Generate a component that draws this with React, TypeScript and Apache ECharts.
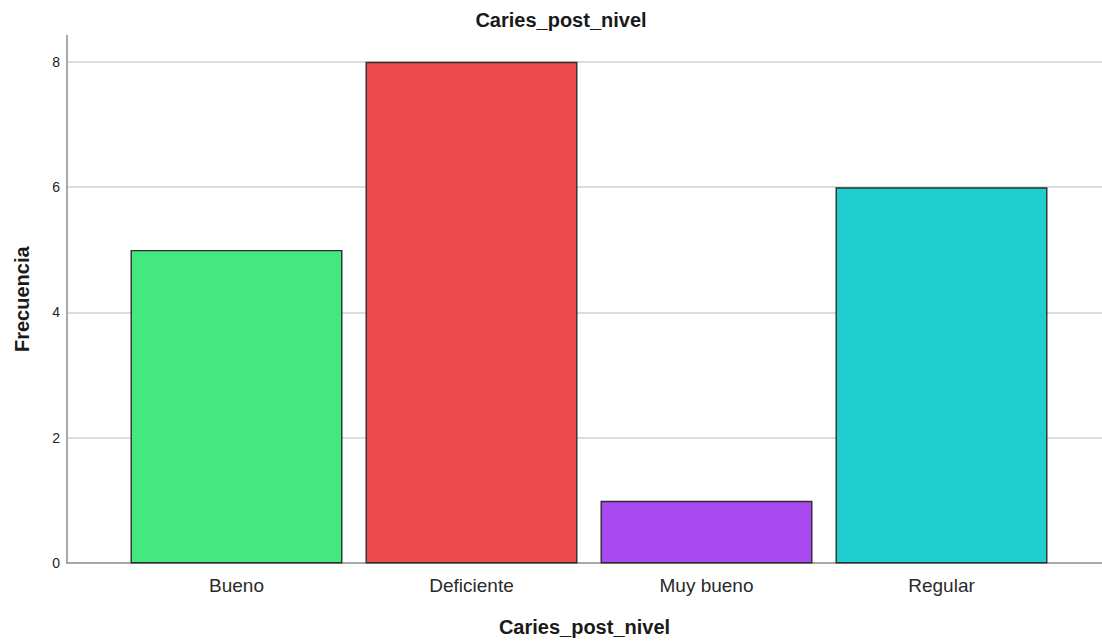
import React, { useEffect, useRef } from "react";
import * as echarts from "echarts";

const categories = ["Bueno", "Deficiente", "Muy bueno", "Regular"];
const frequencies = [5, 8, 1, 6];
const barColors = ["#43E87E", "#EC4B4D", "#A84AF0", "#1FCECE"];
const chartTitle = "Caries_post_nivel";
const xAxisTitle = "Caries_post_nivel";
const yAxisTitle = "Frecuencia";
const yMax = 8.42;
const yInterval = 2;

const FONT = "'Liberation Sans', Arial, sans-serif";

export default function App() {
  const ref = useRef<HTMLDivElement>(null);
  useEffect(() => {
    if (!ref.current) return;
    const chart = echarts.init(ref.current, undefined, { renderer: "svg" });
    const gridTop = 35.5;
    const gridBottom = 78.5;
    chart.setOption({
      animation: false,
      backgroundColor: "#ffffff",
      textStyle: { fontFamily: FONT },
      title: {
        text: chartTitle,
        left: 556,
        textAlign: "center",
        top: 5,
        textStyle: { fontFamily: FONT, fontSize: 20, fontWeight: "bold", color: "#1a1a1a" },
      },
      grid: [
        { left: 67, right: 0, top: gridTop, bottom: gridBottom },
        { left: 119, right: 43, top: gridTop, bottom: gridBottom },
      ],
      xAxis: [
        {
          type: "value",
          gridIndex: 0,
          min: 0,
          max: 1,
          axisLine: { show: true, onZero: false, lineStyle: { color: "#8c8c8c", width: 1.5 } },
          axisTick: { show: false },
          axisLabel: { show: false },
          splitLine: { show: false },
          name: xAxisTitle,
          nameLocation: "middle",
          nameGap: 54,
          nameTextStyle: { fontFamily: FONT, fontSize: 20, fontWeight: "bold", color: "#1a1a1a" },
        },
        {
          type: "category",
          gridIndex: 1,
          data: categories,
          axisLine: { show: false },
          axisTick: { show: false },
          axisLabel: { fontFamily: FONT, fontSize: 19, color: "#2a2a2a", margin: 12 },
          splitLine: { show: false },
        },
      ],
      yAxis: [
        {
          type: "value",
          gridIndex: 0,
          min: 0,
          max: yMax,
          interval: yInterval,
          axisLine: { show: true, lineStyle: { color: "#8c8c8c", width: 1.5 } },
          axisTick: { show: false },
          axisLabel: {
            fontFamily: FONT,
            fontSize: 14,
            color: "#222222",
            margin: 7,
            showMaxLabel: false,
          },
          splitLine: {
            show: true,
            showMinLine: false,
            showMaxLine: false,
            lineStyle: { color: "#d0d0d0", width: 1.5 },
          },
          name: yAxisTitle,
          nameLocation: "middle",
          nameGap: 35,
          nameRotate: 90,
          nameTextStyle: { fontFamily: FONT, fontSize: 20, fontWeight: "bold", color: "#1a1a1a" },
        },
        {
          type: "value",
          gridIndex: 1,
          min: 0,
          max: yMax,
          show: false,
          splitLine: { show: false },
        },
      ],
      series: [
        {
          type: "bar",
          xAxisIndex: 1,
          yAxisIndex: 1,
          barCategoryGap: "9.8%",
          data: frequencies.map((v, i) => ({
            value: v,
            itemStyle: { color: barColors[i] },
          })),
          itemStyle: { borderColor: "#2e2e2e", borderWidth: 1.4 },
        },
      ],
    });
    return () => chart.dispose();
  }, []);
  return (
    <div
      ref={ref}
      style={{ position: "absolute", left: 0, top: 0, width: 1102, height: 642 }}
    />
  );
}
